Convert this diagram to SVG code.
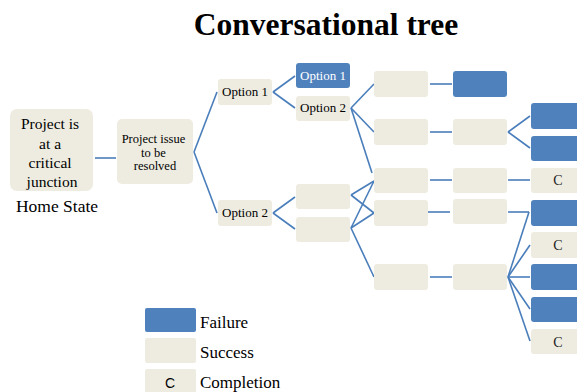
<svg xmlns="http://www.w3.org/2000/svg" width="577" height="392" viewBox="0 0 577 392">
  <style>
    .s { fill: #EEECE1; }
    .f { fill: #4F81BD; }
    .t { font-family: "Liberation Serif", "Times New Roman", serif; fill: #000; }
    .w { font-family: "Liberation Serif", "Times New Roman", serif; fill: #fff; }
    .c { font-family: "Liberation Serif", "Times New Roman", serif; font-size: 14px; fill: #222; text-anchor: middle; }
    .conn line { stroke: #4A7EBB; stroke-width: 1.6; fill: none; }
  </style>

  <rect width="577" height="392" fill="#fff"/>

  <text class="t" x="326" y="35" font-size="31.5" font-weight="bold" text-anchor="middle">Conversational tree</text>

  <!-- connectors -->
  <g id="connectors" class="conn">
    <line x1="95" y1="158" x2="116" y2="158"/>
    <line x1="194" y1="152" x2="217" y2="92"/>
    <line x1="194" y1="152" x2="217" y2="213"/>
    <line x1="273" y1="92" x2="295" y2="76"/>
    <line x1="273" y1="92" x2="295" y2="108"/>
    <line x1="273" y1="213" x2="295" y2="197"/>
    <line x1="273" y1="213" x2="295" y2="229"/>
    <line x1="351" y1="108" x2="374" y2="84"/>
    <line x1="351" y1="108" x2="374" y2="132"/>
    <line x1="351" y1="108" x2="372" y2="173"/>
    <line x1="351" y1="195" x2="374" y2="181"/>
    <line x1="351" y1="195" x2="374" y2="213"/>
    <line x1="351" y1="228" x2="374" y2="181"/>
    <line x1="351" y1="228" x2="374" y2="213"/>
    <line x1="351" y1="228" x2="374" y2="277"/>
    <line x1="430" y1="84" x2="452" y2="84"/>
    <line x1="430" y1="132" x2="452" y2="132"/>
    <line x1="430" y1="180" x2="452" y2="180"/>
    <line x1="428" y1="212" x2="450" y2="212"/>
    <line x1="430" y1="277" x2="452" y2="277"/>
    <line x1="508" y1="132" x2="530" y2="116"/>
    <line x1="508" y1="132" x2="530" y2="148"/>
    <line x1="508" y1="180" x2="530" y2="180"/>
    <line x1="508" y1="212" x2="529" y2="212"/>
    <line x1="508" y1="277" x2="529" y2="212"/>
    <line x1="508" y1="277" x2="530" y2="245"/>
    <line x1="508" y1="277" x2="530" y2="277"/>
    <line x1="508" y1="277" x2="530" y2="309"/>
    <line x1="508" y1="277" x2="530" y2="341"/>
  </g>

  <!-- home state -->
  <g id="root">
    <rect class="s" x="10" y="109" width="83" height="82" rx="7"/>
    <text class="t" font-size="15.5" text-anchor="middle">
      <tspan x="52" y="129">Project is</tspan>
      <tspan x="52" y="148.5">at a</tspan>
      <tspan x="52" y="168">critical</tspan>
      <tspan x="52" y="187">junction</tspan>
    </text>
    <text class="t" x="57" y="212" font-size="17.5" text-anchor="middle">Home State</text>
  </g>

  <g id="issue">
    <rect class="s" x="117" y="119" width="76" height="65" rx="5"/>
    <text class="t" font-size="12.5" text-anchor="middle">
      <tspan x="155" y="143">Project issue</tspan>
      <tspan x="155" y="156.5">to be</tspan>
      <tspan x="155" y="170">resolved</tspan>
    </text>
  </g>

  <!-- first level options -->
  <g id="opt1">
    <rect class="s" x="218" y="79" width="54" height="26" rx="3"/>
    <text class="t" x="245" y="96" font-size="13" text-anchor="middle">Option 1</text>
  </g>
  <g id="opt2">
    <rect class="s" x="218" y="200" width="54" height="26" rx="3"/>
    <text class="t" x="245" y="217" font-size="13" text-anchor="middle">Option 2</text>
  </g>

  <!-- second level -->
  <g id="opt1-1">
    <rect class="f" x="296" y="63" width="54" height="25" rx="3"/>
    <text class="w" x="323" y="80" font-size="13" text-anchor="middle">Option 1</text>
  </g>
  <g id="opt1-2">
    <rect class="s" x="296" y="96" width="54" height="25" rx="3"/>
    <text class="t" x="323" y="112" font-size="13" text-anchor="middle">Option 2</text>
  </g>
  <g id="opt2-1"><rect class="s" x="296" y="184" width="54" height="25" rx="3"/></g>
  <g id="opt2-2"><rect class="s" x="296" y="217" width="54" height="25" rx="3"/></g>

  <!-- third level -->
  <g id="l3-1"><rect class="s" x="374" y="71" width="54" height="26" rx="3"/></g>
  <g id="l3-2"><rect class="s" x="374" y="119" width="54" height="26" rx="3"/></g>
  <g id="l3-3"><rect class="s" x="374" y="168" width="54" height="25" rx="3"/></g>
  <g id="l3-4"><rect class="s" x="374" y="200" width="54" height="26" rx="3"/></g>
  <g id="l3-5"><rect class="s" x="374" y="264" width="54" height="26" rx="3"/></g>

  <!-- fourth level -->
  <g id="l4-1"><rect class="f" x="453" y="71" width="54" height="26" rx="3"/></g>
  <g id="l4-2"><rect class="s" x="453" y="119" width="54" height="26" rx="3"/></g>
  <g id="l4-3"><rect class="s" x="453" y="168" width="54" height="25" rx="3"/></g>
  <g id="l4-4"><rect class="s" x="453" y="199" width="54" height="25" rx="3"/></g>
  <g id="l4-5"><rect class="s" x="453" y="264" width="54" height="26" rx="3"/></g>

  <!-- fifth level -->
  <g id="l5-1"><rect class="f" x="531" y="103" width="54" height="26" rx="3"/></g>
  <g id="l5-2"><rect class="f" x="531" y="136" width="54" height="25" rx="3"/></g>
  <g id="l5-3"><rect class="s" x="531" y="168" width="54" height="25" rx="3"/><text class="c" x="558" y="185">C</text></g>
  <g id="l5-4"><rect class="f" x="531" y="200" width="54" height="26" rx="3"/></g>
  <g id="l5-5"><rect class="s" x="531" y="232" width="54" height="26" rx="3"/><text class="c" x="558" y="250">C</text></g>
  <g id="l5-6"><rect class="f" x="531" y="264" width="54" height="26" rx="3"/></g>
  <g id="l5-7"><rect class="f" x="531" y="297" width="54" height="25" rx="3"/></g>
  <g id="l5-8"><rect class="s" x="531" y="329" width="54" height="25" rx="3"/><text class="c" x="558" y="347">C</text></g>

  <!-- legend -->
  <g id="legend">
    <rect class="f" x="145" y="308" width="51" height="24" rx="2"/>
    <text class="t" x="200" y="328" font-size="17">Failure</text>
    <rect class="s" x="145" y="338" width="51" height="25" rx="2"/>
    <text class="t" x="200" y="358" font-size="17">Success</text>
    <rect class="s" x="145" y="369" width="51" height="25" rx="2"/>
    <text x="170" y="388" font-size="14" text-anchor="middle" font-family="Liberation Sans, Arial, sans-serif" fill="#000">C</text>
    <text class="t" x="200" y="388" font-size="17">Completion</text>
  </g>
</svg>
